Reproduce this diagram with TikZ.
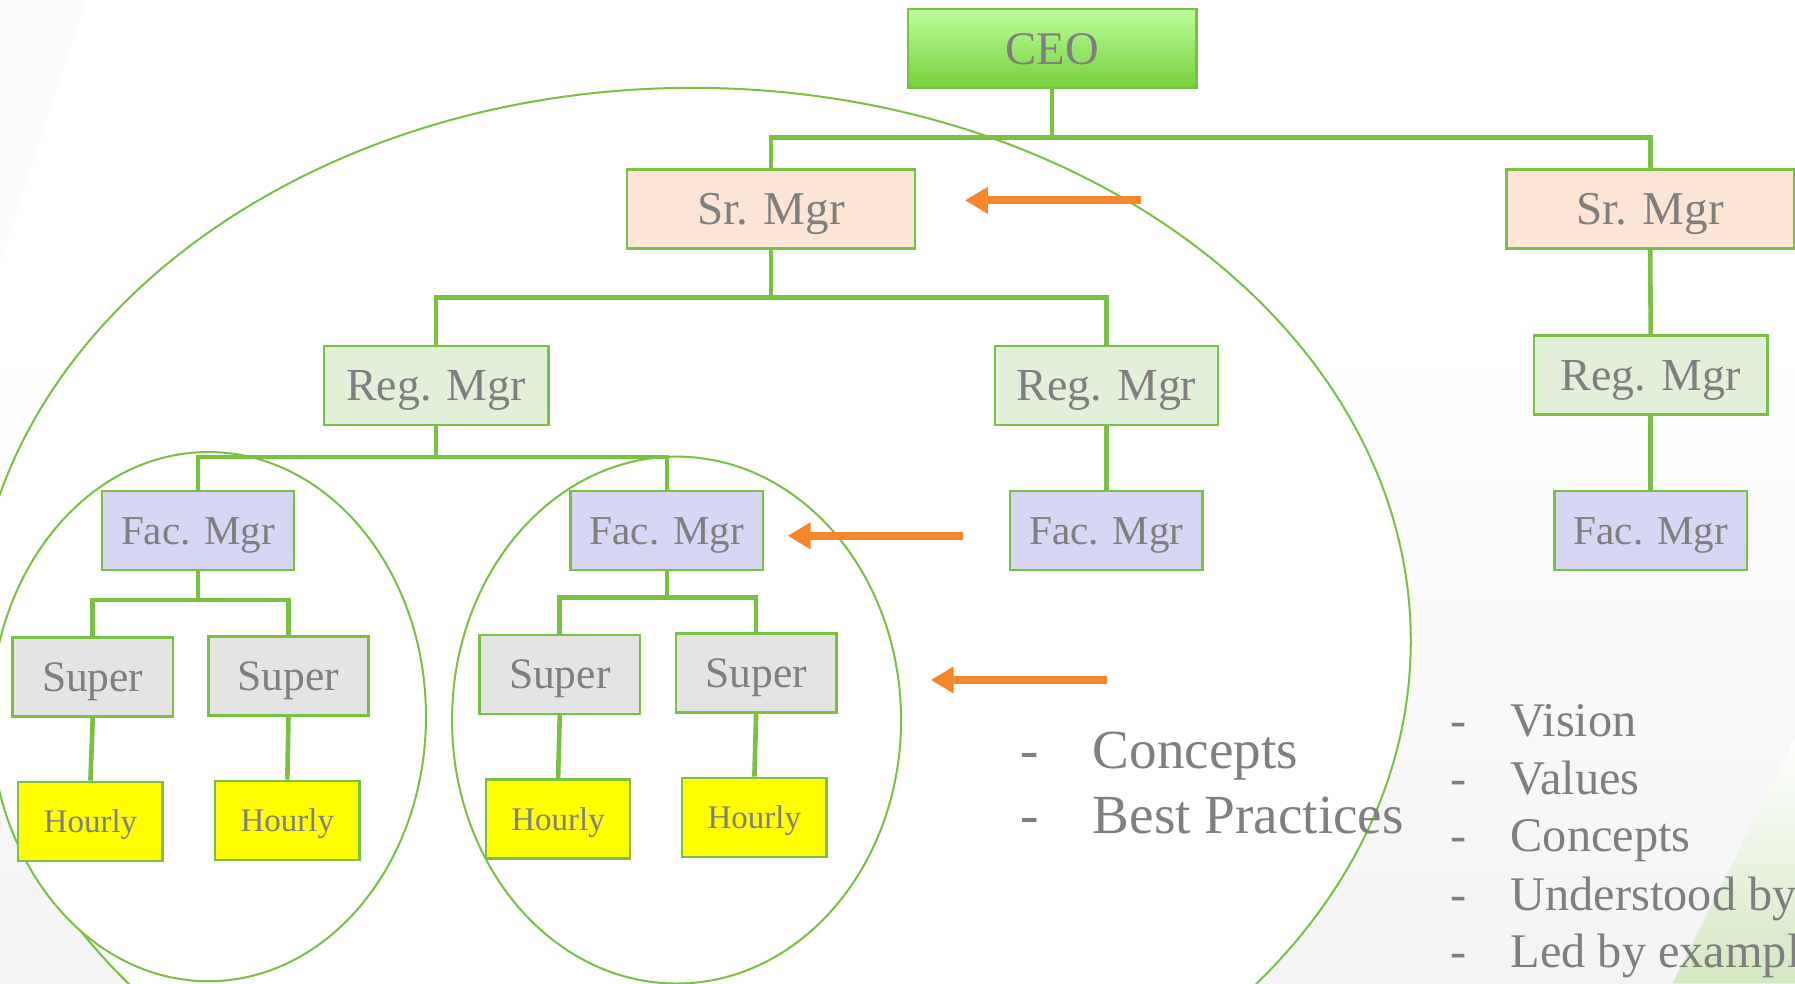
\documentclass[tikz,border=0pt]{standalone}
\usepackage{fontspec}
\setmainfont{Liberation Serif}
\usetikzlibrary{arrows.meta}
\definecolor{bgreen}{HTML}{7AC143}
\definecolor{txtgray}{HTML}{7F7F7F}
\definecolor{orng}{HTML}{F5862B}
\definecolor{srfill}{HTML}{FDE5D5}
\definecolor{regfill}{HTML}{E2F0D9}
\definecolor{facfill}{HTML}{D7D7F4}
\definecolor{supfill}{HTML}{E4E4E4}
\definecolor{hrfill}{HTML}{FFFF00}
\definecolor{ceotop}{HTML}{BBFD9B}
\definecolor{ceobot}{HTML}{77D13A}
\definecolor{swgreen}{HTML}{D3E8C0}
\tikzset{
  orgbox/.style={draw=bgreen, line width=0.6pt, minimum height=0.69cm, inner sep=0pt, text=txtgray, text depth=0pt},
  ceobox/.style={orgbox, top color=ceotop, bottom color=ceobot, minimum width=2.52cm, font=\fontsize{11.6pt}{13pt}\selectfont, text height=7.7pt},
  srbox/.style={orgbox, fill=srfill, minimum width=2.51cm, font=\fontsize{11.7pt}{13pt}\selectfont, text height=7.75pt},
  regbox/.style={orgbox, fill=regfill, font=\fontsize{11.4pt}{13pt}\selectfont, text height=7.55pt},
  facbox/.style={orgbox, fill=facfill, minimum width=1.68cm, font=\fontsize{10.2pt}{12pt}\selectfont, text height=6.75pt},
  supbox/.style={orgbox, fill=supfill, minimum width=1.40cm, font=\fontsize{10.8pt}{12pt}\selectfont, text height=7.15pt},
  hrbox/.style={orgbox, fill=hrfill, minimum width=1.26cm, font=\fontsize{8.2pt}{10pt}\selectfont, text height=5.43pt},
  conn/.style={draw=bgreen, line width=1.15pt},
  ell/.style={draw=bgreen, line width=0.5pt, fill=white},
  orarrow/.style={draw=orng, line width=2pt, -{Triangle[length=5.7pt, width=6.3pt]}},
  listtxt/.style={anchor=base west, inner sep=0pt, text=txtgray},
}
\begin{document}
\begin{tikzpicture}[x=0.01cm, y=-0.01cm]
\useasboundingbox (0,0) rectangle (1568,859);
\clip (0,0) rectangle (1568,859);
% background
\fill[white] (0,0) rectangle (1568,859);
\shade[top color=white, bottom color=gray!9] (0,300) rectangle (1568,859);
\fill[gray!2] (0,0) -- (75,0) -- (0,230) -- cycle;
\shade[top color=white, bottom color=swgreen] (1461,859) -- (1568,645) -- (1568,859) -- cycle;
% ellipses
\draw[ell] (605,560) ellipse [x radius=6.27cm, y radius=4.83cm];
\draw[ell] (182,626) ellipse [x radius=1.90cm, y radius=2.31cm];
\draw[ell] (591,629) ellipse [x radius=1.96cm, y radius=2.30cm];
% nodes
\node[ceobox] (ceo) at (919,42.5) {CEO};
\node[srbox] (sr1) at (673.5,182.5) {Sr. Mgr};
\node[srbox] (sr2) at (1441.5,182.5) {Sr. Mgr};
\node[regbox, minimum width=1.96cm] (reg1) at (381,336.5) {Reg. Mgr};
\node[regbox, minimum width=1.95cm] (reg2) at (966.5,336.5) {Reg. Mgr};
\node[regbox, minimum width=2.04cm] (reg3) at (1442,327.5) {Reg. Mgr};
\node[facbox] (fac1) at (173,463.5) {Fac. Mgr};
\node[facbox] (fac2) at (582.5,463.5) {Fac. Mgr};
\node[facbox] (fac3) at (966.5,463.5) {Fac. Mgr};
\node[facbox] (fac4) at (1442,463.5) {Fac. Mgr};
\node[supbox] (sup1) at (81,591.5) {Super};
\node[supbox] (sup2) at (252,590.5) {Super};
\node[supbox] (sup3) at (489,589) {Super};
\node[supbox] (sup4) at (660.5,588) {Super};
\node[hrbox] (hr1) at (79,717.5) {Hourly};
\node[hrbox] (hr2) at (251,716.5) {Hourly};
\node[hrbox] (hr3) at (487.5,715.5) {Hourly};
\node[hrbox] (hr4) at (659,714) {Hourly};
% connectors
\draw[conn] (ceo.south) -- ++(0,42) -| (sr1.north);
\draw[conn] (ceo.south) -- ++(0,42) -| (sr2.north);
\draw[conn] (sr1.south) -- ++(0,42) -| (reg1.north);
\draw[conn] (sr1.south) -- ++(0,42) -| (reg2.north);
\draw[conn] (sr2.south) -- (reg3.north);
\draw[conn] (reg3.south) -- (fac4.north);
\draw[conn] (reg2.south) -- (fac3.north);
\draw[conn] (reg1.south) -- ++(0,27) -| (fac1.north);
\draw[conn] (reg1.south) -- ++(0,27) -| (fac2.north);
\draw[conn] (fac1.south) -- ++(0,25) -| (sup1.north);
\draw[conn] (fac1.south) -- ++(0,25) -| (sup2.north);
\draw[conn] (fac2.south) -- ++(0,23) -| (sup3.north);
\draw[conn] (fac2.south) -- ++(0,23) -| (sup4.north);
\draw[conn] (sup1.south) -- (hr1.north);
\draw[conn] (sup2.south) -- (hr2.north);
\draw[conn] (sup3.south) -- (hr3.north);
\draw[conn] (sup4.south) -- (hr4.north);
% orange arrows
\coordinate (a1s) at (997,175);
\coordinate (a1e) at (843,175);
\coordinate (a2s) at (841,468);
\coordinate (a2e) at (688,468);
\coordinate (a3s) at (967,594);
\coordinate (a3e) at (813,594);
\draw[orarrow] (a1s) -- (a1e);
\draw[orarrow] (a2s) -- (a2e);
\draw[orarrow] (a3s) -- (a3e);
% middle list
\begin{scope}[every node/.style={listtxt, font=\fontsize{13.7pt}{16pt}\selectfont}]
\node (d1) at (891,671) {-};
\node (t1) at (954,671) {Concepts};
\node (d2) at (891,728) {-};
\node (t2) at (954,728) {Best Practices};
\end{scope}
% right list
\begin{scope}[every node/.style={listtxt, font=\fontsize{12pt}{14pt}\selectfont}]
\node (r1d) at (1266,643) {-};
\node (r1) at (1319,643) {Vision};
\node (r2d) at (1266,694) {-};
\node (r2) at (1319,694) {Values};
\node (r3d) at (1266,744) {-};
\node (r3) at (1319,744) {Concepts};
\node (r4d) at (1266,795) {-};
\node (r4) at (1319,795) {Understood by};
\node (r5d) at (1266,845) {-};
\node (r5) at (1319,845) {Led by example};
\end{scope}
\end{tikzpicture}
\end{document}
